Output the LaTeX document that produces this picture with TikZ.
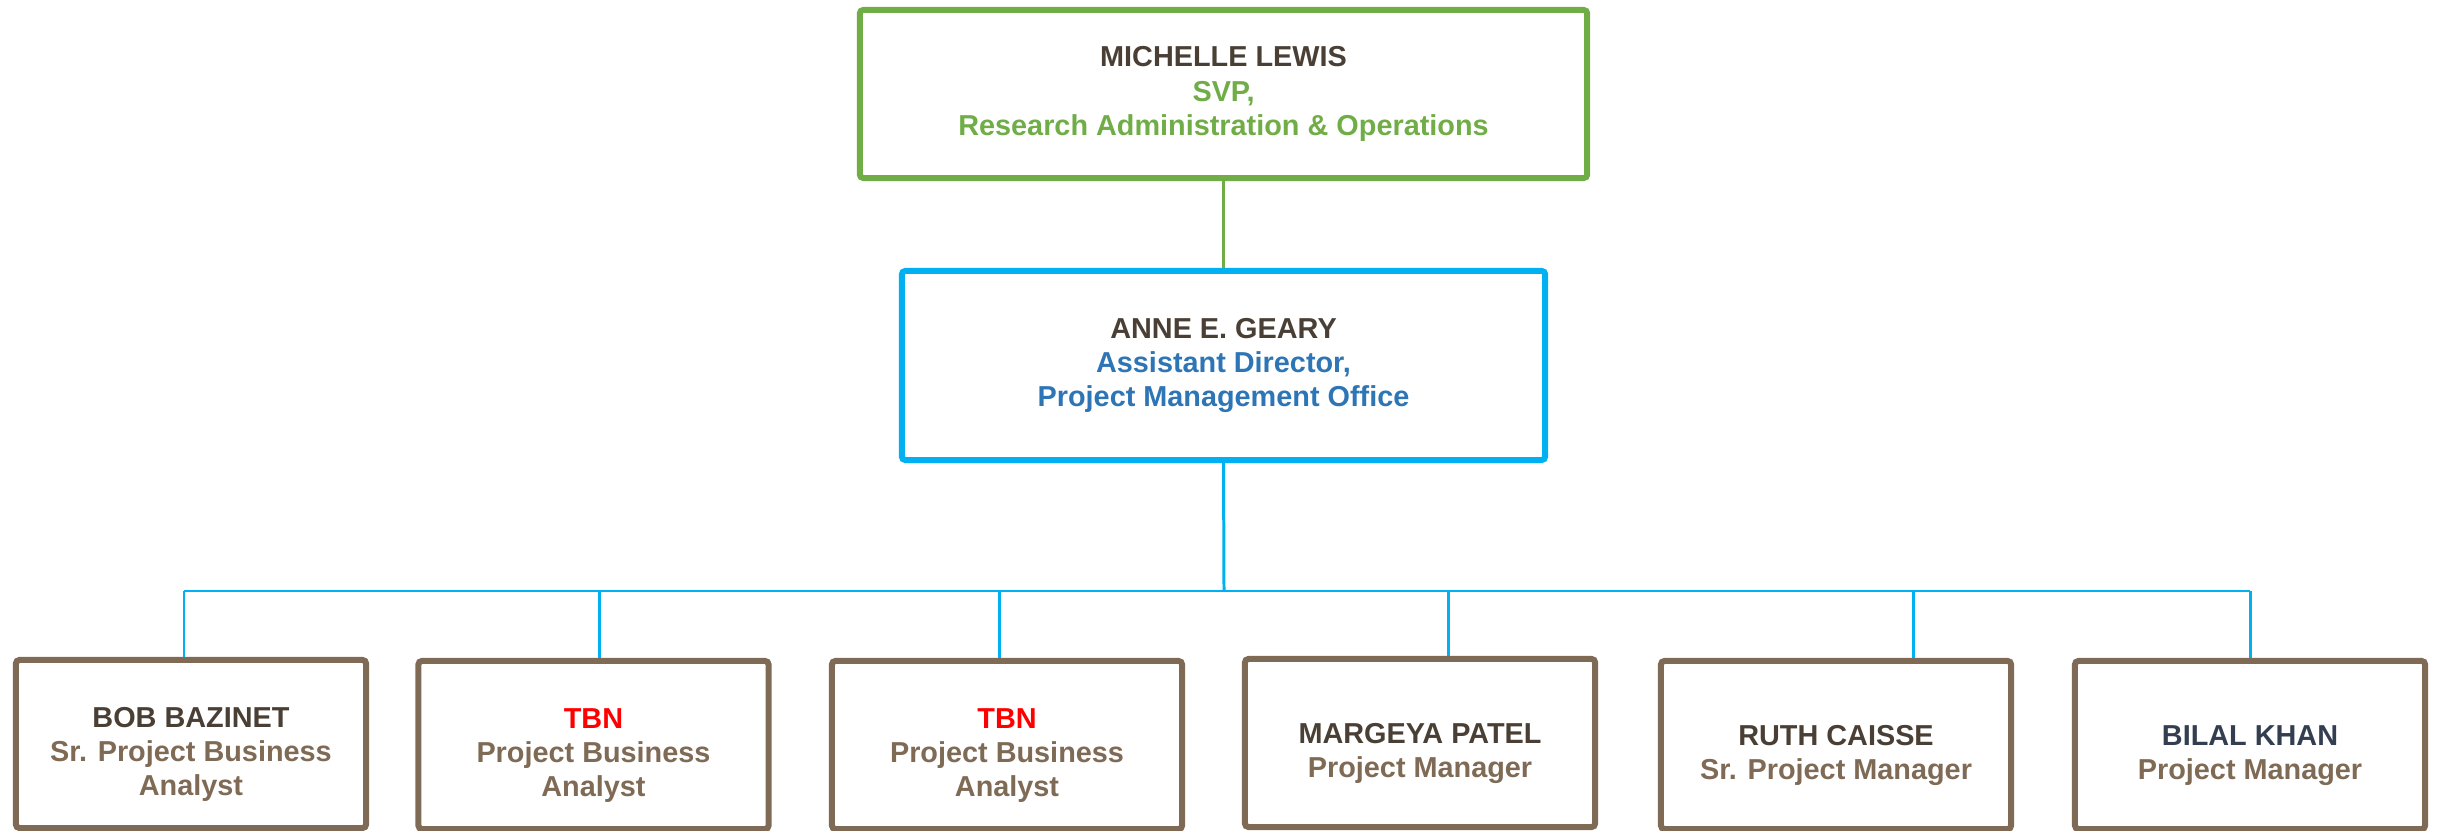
\documentclass[tikz,border=0pt]{standalone}
\usepackage{fontspec}
\setmainfont{Liberation Sans}
\definecolor{svpgreen}{HTML}{70AD47}
\definecolor{pmoblue}{HTML}{00B0F0}
\definecolor{titleblue}{HTML}{2E75B6}
\definecolor{namebrown}{HTML}{4A3F35}
\definecolor{staffbrown}{HTML}{7F6A55}
\definecolor{tbnred}{HTML}{FF0000}
\definecolor{navyname}{HTML}{333F50}
\newcommand{\toppad}{\rule{0pt}{11.6pt}}
\tikzset{
	orgtext/.style={align=center,inner sep=0pt,font=\fontsize{8.2}{9.7}\selectfont\bfseries},
	svpbox/.style={orgtext,draw=svpgreen,text=svpgreen,line width=1.7pt,rounded corners=1pt,minimum width=7.27cm,minimum height=1.68cm},
	pmobox/.style={orgtext,draw=pmoblue,text=titleblue,line width=1.7pt,rounded corners=1pt,minimum width=6.43cm,minimum height=1.89cm},
	staffbox/.style={orgtext,draw=staffbrown,text=staffbrown,line width=1.7pt,rounded corners=1pt,minimum width=3.5cm,minimum height=1.68cm},
	greenlink/.style={draw=svpgreen,line width=0.75pt},
	bluelink/.style={draw=pmoblue,line width=0.85pt}
}
\begin{document}
\begin{tikzpicture}[x=0.01cm,y=-0.01cm]
		\useasboundingbox (0,0) rectangle (2440,831);
		\node[svpbox] (svp) at (1223.5,94) {\textcolor{namebrown}{MICHELLE LEWIS}\\SVP,\\Research Administration \& Operations};
		\node[pmobox] (pmo) at (1223.5,365.5) {\textcolor{namebrown}{ANNE E. GEARY}\\Assistant Director,\\Project Management Office};
		\node[staffbox] (b1) at (191,744) {\toppad\textcolor{namebrown}{BOB BAZINET}\\Sr. Project Business\\Analyst};
		\node[staffbox] (b2) at (593.5,745) {\toppad\textcolor{tbnred}{TBN}\\Project Business\\Analyst};
		\node[staffbox] (b3) at (1007,745) {\toppad\textcolor{tbnred}{TBN}\\Project Business\\Analyst};
		\node[staffbox] (b4) at (1420,743) {\toppad\textcolor{namebrown}{MARGEYA PATEL}\\Project Manager};
		\node[staffbox] (b5) at (1836,745) {\toppad\textcolor{namebrown}{RUTH CAISSE}\\Sr. Project Manager};
		\node[staffbox] (b6) at (2250,745) {\toppad\textcolor{navyname}{BILAL KHAN}\\Project Manager};
		\coordinate (bus) at (1224,591);
		\coordinate (d1) at (184,591);
		\coordinate (d2) at (599,591);
		\coordinate (d3) at (999,591);
		\coordinate (d4) at (1448,591);
		\coordinate (d5) at (1913,591);
		\coordinate (d6) at (2250,591);
		\draw[greenlink] (svp.south) -- (pmo.north);
		\draw[bluelink] (pmo.south) -- (bus);
		\draw[bluelink] (d1) -- (d6);
		\foreach \i in {1,...,6}
			\draw[bluelink] (d\i) -- (d\i |- b\i.north);
\end{tikzpicture}
\end{document}
